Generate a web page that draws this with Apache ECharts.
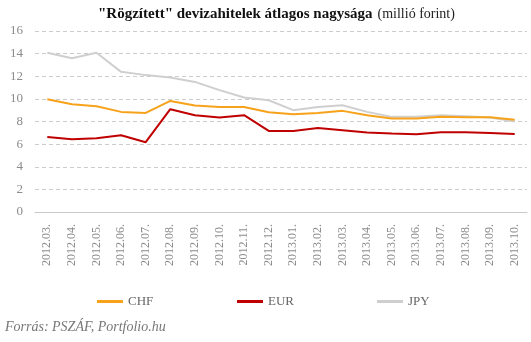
<!DOCTYPE html>
<html><head><meta charset="utf-8">
<script src="https://cdn.jsdelivr.net/npm/echarts@6/dist/echarts.min.js"></script>
<style>html,body{margin:0;padding:0;background:#fff}#c{width:531px;height:342px}</style>
</head><body><div id="c"></div>
<script>
const categories = ["2012.03.","2012.04.","2012.05.","2012.06.","2012.07.","2012.08.","2012.09.","2012.10.","2012.11.","2012.12.","2013.01.","2013.02.","2013.03.","2013.04.","2013.05.","2013.06.","2013.07.","2013.08.","2013.09.","2013.10."];
const chf = [9.97,9.53,9.35,8.85,8.76,9.82,9.41,9.29,9.29,8.82,8.65,8.76,8.94,8.56,8.26,8.26,8.41,8.38,8.38,8.15];
const eur = [6.64,6.43,6.52,6.79,6.17,9.09,8.56,8.35,8.56,7.17,7.17,7.43,7.23,7.03,6.94,6.88,7.05,7.05,6.99,6.9];
const jpy = [14.07,13.6,14.07,12.39,12.1,11.89,11.5,10.77,10.12,9.88,9.0,9.29,9.44,8.85,8.41,8.41,8.56,8.47,8.35,8.0];
const yTicks = {min:0, max:16, interval:2};

const serif = '"Liberation Serif","DejaVu Serif",serif';
const chart = echarts.init(document.getElementById('c'), null, {renderer:'canvas'});
const legendCommon = {top:295, padding:0, itemWidth:26, itemHeight:3, icon:'rect', itemGap:4,
  textStyle:{fontFamily:serif, fontSize:13, color:'#666'}};
chart.setOption({
  animation:false,
  title:{text:'{b|"Rögzített" devizahitelek átlagos nagysága} {n|(millió forint)}',
    left:93, top:0,
    textStyle:{rich:{b:{fontFamily:serif,fontSize:15,fontWeight:'bold',color:'#111'},
      n:{fontFamily:serif,fontSize:14,fontWeight:'normal',color:'#222'}}}},
  graphic:[{type:'text', left:5, top:320, style:{text:'Forrás: PSZÁF, Portfolio.hu',
    font:'italic 14px "Liberation Serif","DejaVu Serif",serif', fill:'#777'}}],
  legend:[
    Object.assign({left:97, data:['CHF']}, legendCommon),
    Object.assign({left:237, data:['EUR']}, legendCommon),
    Object.assign({left:377, data:['JPY']}, legendCommon)
  ],
  grid:{left:35, right:4, top:31, bottom:130, containLabel:false},
  xAxis:{type:'category', data:categories, boundaryGap:true,
    axisLine:{lineStyle:{color:'#c8c8c8', width:1}}, axisTick:{show:false},
    axisLabel:{rotate:90, margin:12, fontFamily:serif, fontSize:12, color:'#8c8c8c', interval:0}},
  yAxis:{type:'value', min:yTicks.min, max:yTicks.max, interval:yTicks.interval,
    axisLine:{show:false}, axisTick:{show:false},
    axisLabel:{margin:12, fontFamily:serif, fontSize:13, color:'#8c8c8c'},
    splitLine:{lineStyle:{color:'#cccccc', type:[4,3], width:1}}},
  series:[
    {name:'CHF', type:'line', data:chf, symbol:'none', lineStyle:{width:2, color:'#f7a21b'}, itemStyle:{color:'#f7a21b'}, z:3},
    {name:'EUR', type:'line', data:eur, symbol:'none', lineStyle:{width:2, color:'#c00000'}, itemStyle:{color:'#c00000'}, z:2},
    {name:'JPY', type:'line', data:jpy, symbol:'none', lineStyle:{width:2, color:'#cfcfcf'}, itemStyle:{color:'#cfcfcf'}, z:1}
  ]
});
</script></body></html>
